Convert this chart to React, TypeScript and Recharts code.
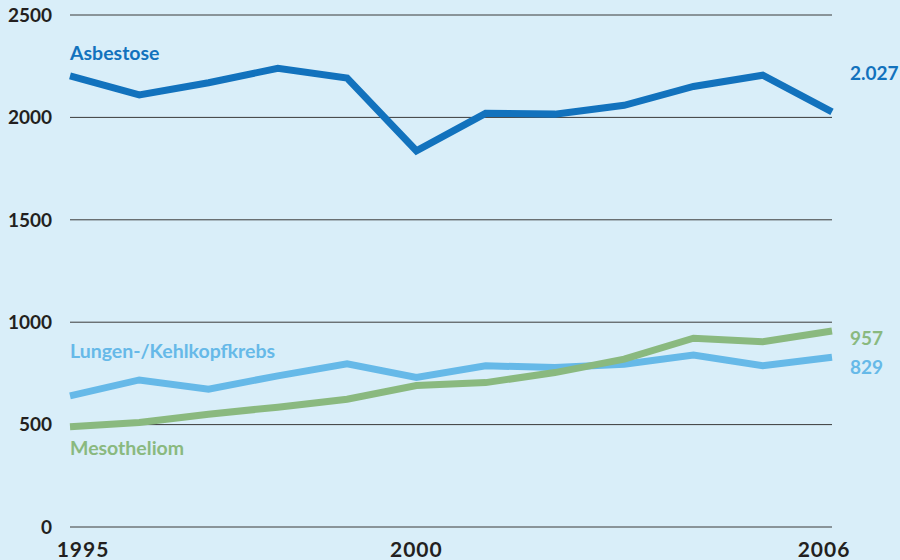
import React from 'react';
import { LineChart, Line, XAxis, YAxis, CartesianGrid, LabelList } from 'recharts';

const years = [1995, 1996, 1997, 1998, 1999, 2000, 2001, 2002, 2003, 2004, 2005, 2006];
const asbestose = [2203, 2110, 2169, 2240, 2192, 1837, 2020, 2016, 2059, 2151, 2206, 2027];
const lungen = [640, 718, 673, 738, 797, 730, 787, 779, 795, 840, 788, 829];
const mesotheliom = [489, 510, 551, 585, 624, 691, 705, 754, 820, 922, 905, 957];
const yTicks = [0, 500, 1000, 1500, 2000, 2500];
const xTicks = [1995, 2000, 2006];

const data = years.map((year, i) => ({
  year,
  asbestose: asbestose[i],
  lungen: lungen[i],
  mesotheliom: mesotheliom[i],
}));

const FONT = 'Lato, "Open Sans", sans-serif';
const last = years.length - 1;

// name on the first point, value on the last point
const makeLabel = (name: string, endText: string, color: string, nameDy: number, endDy: number) =>
  (props: any) => {
    const { x, y, index } = props;
    if (index === 0) {
      return (
        <text x={x} y={y + nameDy} fill={color} fontFamily={FONT} fontWeight={700} fontSize={19.5} dominantBaseline="middle">
          {name}
        </text>
      );
    }
    if (index === last) {
      return (
        <text x={x + 18} y={y + endDy} fill={color} fontFamily={FONT} fontWeight={700} fontSize={19} dominantBaseline="middle">
          {endText}
        </text>
      );
    }
    return null;
  };

const XTick = (props: any) => {
  const { x, y, payload } = props;
  const dx = payload.value === 1995 ? 13 : payload.value === 2006 ? -8 : 0;
  return (
    <text x={x + dx} y={y} dy="0.71em" textAnchor="middle" fill="#231f20" fontFamily={FONT} fontWeight={700} fontSize={21} letterSpacing={1}>
      {payload.value}
    </text>
  );
};

const YTick = (props: any) => {
  const { x, y, payload } = props;
  return (
    <text x={x} y={y + 2} dominantBaseline="middle" textAnchor="end" fill="#231f20" fontFamily={FONT} fontWeight={700} fontSize={19}>
      {payload.value}
    </text>
  );
};

const App: React.FC = () => {
  return (
    <div style={{ position: 'absolute', left: 0, top: 0, width: 900, height: 560, background: '#d9eef9', overflow: 'hidden' }}>
      <LineChart width={900} height={560} data={data} margin={{ top: 15, right: 68, left: 0, bottom: 0 }}>
        <CartesianGrid vertical={false} stroke="#3a3a3a" strokeWidth={1} />
        <XAxis
          dataKey="year"
          type="number"
          domain={[1995, 2006]}
          ticks={xTicks}
          axisLine={false}
          tickLine={false}
          tickSize={0}
          tickMargin={15}
          height={33}
          tick={<XTick />}
        />
        <YAxis
          domain={[0, 2500]}
          ticks={yTicks}
          width={70}
          axisLine={false}
          tickLine={false}
          tickSize={0}
          tickMargin={18}
          tick={<YTick />}
        />
        <Line dataKey="asbestose" stroke="#1272bd" strokeWidth={7} dot={false} isAnimationActive={false}>
          <LabelList dataKey="asbestose" content={makeLabel('Asbestose', '2.027', '#1272bd', -21, -37)} />
        </Line>
        <Line dataKey="lungen" stroke="#66b9e8" strokeWidth={7} dot={false} isAnimationActive={false}>
          <LabelList dataKey="lungen" content={makeLabel('Lungen-/Kehlkopfkrebs', '829', '#66b9e8', -43, 12)} />
        </Line>
        <Line dataKey="mesotheliom" stroke="#8ab97f" strokeWidth={7} dot={false} isAnimationActive={false}>
          <LabelList dataKey="mesotheliom" content={makeLabel('Mesotheliom', '957', '#8ab97f', 23, 9)} />
        </Line>
      </LineChart>
    </div>
  );
};

export default App;
